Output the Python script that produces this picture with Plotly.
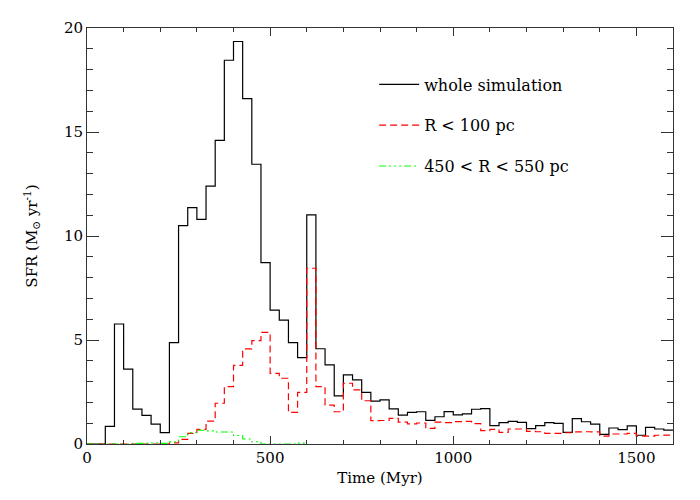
import numpy as np
import plotly.graph_objects as go

# bins of 25 Myr from 0 to 1600 Myr
bin_width = 25
time_edges = np.arange(0, 1600, bin_width)

sfr_whole = [0, 0, 0.85, 5.77, 3.6, 1.68, 1.38, 0.96, 0.55, 4.87,
             10.5, 11.36, 10.8, 12.4, 14.6, 18.45, 19.35, 16.6, 13.45, 8.72,
             6.44, 5.96, 4.87, 4.15, 11.02, 4.58, 3.8, 2.31, 3.32, 3.08,
             2.48, 2.06, 2.12, 1.69, 1.39, 1.52, 1.55, 1.14, 1.31, 1.56,
             1.40, 1.45, 1.67, 1.70, 0.88, 1.03, 1.09, 1.04, 0.74, 0.88,
             1.03, 0.99, 0.56, 1.22, 1.07, 0.96, 0.46, 0.77, 0.69, 0.87,
             0.42, 0.80, 0.72, 0.67]

sfr_inner = [0, 0, 0, 0, 0, 0, 0, 0, 0, 0.05,
             0.22, 0.51, 0.7, 1.1, 1.96, 2.76, 3.78, 4.57, 4.97, 5.37,
             3.4, 3.16, 1.52, 2.48, 8.45, 2.76, 1.87, 1.55, 2.92, 2.6,
             2.08, 1.12, 1.13, 1.23, 1.05, 0.97, 1.01, 0.75, 1.05, 1.03,
             1.08, 1.09, 0.98, 0.64, 0.70, 0.56, 0.72, 0.72, 0.61, 0.59,
             0.51, 0.51, 0.54, 0.58, 0.59, 0.58, 0.38, 0.48, 0.48, 0.51,
             0.38, 0.38, 0.42, 0.43]

sfr_ring = [0, 0, 0, 0, 0, 0.03, 0.03, 0.05, 0.03, 0.1,
            0.35, 0.54, 0.66, 0.63, 0.58, 0.58, 0.41, 0.24, 0.11, 0,
            0, 0, 0, 0.04]

labels = ["whole simulation", "R < 100 pc", "450 < R < 550 pc"]
x_ticks = [0, 500, 1000, 1500]
y_ticks = [0, 5, 10, 15, 20]

FONT = "DejaVu Serif"


def steps(vals):
    n = len(vals)
    xs = list(time_edges[:n]) + [time_edges[n - 1] + bin_width]
    ys = list(vals) + [vals[-1]]
    return xs, ys


fig = go.Figure()
for vals, name, color, dash, width, grp in [
    (sfr_whole, labels[0], "black", "solid", 1.2, "a"),
    (sfr_inner, labels[1], "#ff0000", "7px,4px", 1.2, "b"),
    (sfr_ring, labels[2], "#00ff00", "7px,3px,2px,3px,2px,3px,2px,3px", 1.1, "c"),
]:
    xs, ys = steps(vals)
    fig.add_trace(go.Scatter(x=xs, y=ys, mode="lines", name=name,
                             legendgroup=grp,
                             line=dict(color=color, dash=dash, width=width, shape="hv")))

axis_common = dict(showline=True, linecolor="#333", linewidth=1, mirror="ticks",
                   ticks="inside", tickcolor="#333", showgrid=False, zeroline=False,
                   automargin=False,
                   tickfont=dict(family=FONT, size=15, color="black"))

fig.update_xaxes(range=[0, 1600], tickvals=x_ticks, ticklen=8,
                 minor=dict(dtick=100, ticklen=4, ticks="inside", tickcolor="#333"),
                 title=dict(text="Time (Myr)", font=dict(family=FONT, size=15, color="black"),
                            standoff=6),
                 **axis_common)
fig.update_yaxes(range=[0, 20], tickvals=y_ticks, ticklen=12,
                 minor=dict(dtick=1, ticklen=6, ticks="inside", tickcolor="#333"),
                 title=dict(text="SFR (M<sub>⊙</sub> yr<sup>-1</sup>)",
                            font=dict(family=FONT, size=15, color="black"), standoff=22),
                 **axis_common)

fig.update_layout(
    width=700, height=500,
    margin=dict(l=79, r=35, t=20, b=64),
    plot_bgcolor="white", paper_bgcolor="white",
    legend=dict(x=0.49, y=0.905, xanchor="left", yanchor="top",
                bgcolor="rgba(0,0,0,0)", tracegroupgap=17, itemwidth=40,
                font=dict(family=FONT, size=16, color="black")),
    showlegend=True,
)

fig.write_html("out.html")
